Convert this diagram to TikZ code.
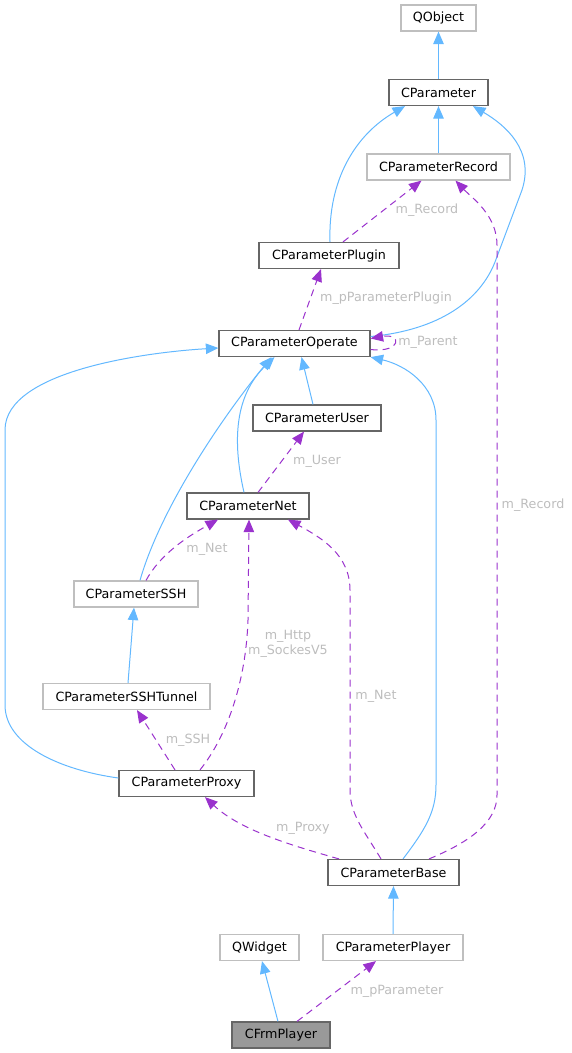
\documentclass[tikz,border=0pt]{standalone}
\usepackage{fontspec}
\setmainfont{DejaVu Sans}
\usetikzlibrary{calc,arrows.meta}
\definecolor{inh}{HTML}{63B8FF}
\definecolor{usg}{HTML}{9A32CD}
\definecolor{docb}{HTML}{666666}
\definecolor{undoc}{HTML}{BFBFBF}
\definecolor{lblc}{HTML}{BDBDBD}
\definecolor{frmfill}{HTML}{999999}
\begin{document}
\begin{tikzpicture}[x=1pt,y=-1pt,
  every node/.style={font=\fontsize{12.7pt}{15pt}\selectfont},
  box/.style={rectangle,minimum height=26pt,inner sep=0pt,line width=1.2pt,fill=white},
  docnode/.style={box,draw=docb},
  undocnode/.style={box,draw=undoc},
  curnode/.style={box,draw=docb,fill=frmfill},
  inhedge/.style={draw=inh,line width=1pt,-{Triangle[length=12.5pt,width=10.5pt]}},
  usgedge/.style={draw=usg,line width=1pt,dash pattern=on 7pt off 5pt,-{Triangle[length=12.5pt,width=10.5pt]}},
  lbl/.style={text=lblc,inner sep=0pt}
]
\useasboundingbox (0,0) rectangle (572,1053);
% nodes
\node[undocnode,minimum width=75pt] (qobject) at (438.5,18) {QObject};
\node[docnode,minimum width=99pt] (cparam) at (438.5,92.5) {CParameter};
\node[undocnode,minimum width=143pt] (record) at (438.5,167) {CParameterRecord};
\node[docnode,minimum width=140pt] (plugin) at (329,255.5) {CParameterPlugin};
\node[docnode,minimum width=151pt] (operate) at (294.5,343.5) {CParameterOperate};
\node[docnode,minimum width=128pt] (user) at (317,418) {CParameterUser};
\node[docnode,minimum width=122pt] (net) at (248,506) {CParameterNet};
\node[undocnode,minimum width=124pt] (ssh) at (136,594) {CParameterSSH};
\node[undocnode,minimum width=167pt] (tunnel) at (126.5,696.5) {CParameterSSHTunnel};
\node[docnode,minimum width=135pt] (proxy) at (186.5,783.5) {CParameterProxy};
\node[docnode,minimum width=131pt] (base) at (393.5,872.5) {CParameterBase};
\node[undocnode,minimum width=79pt] (qwidget) at (259.5,947.5) {QWidget};
\node[undocnode,minimum width=140pt] (player) at (393,947.5) {CParameterPlayer};
\node[curnode,minimum width=98pt] (frm) at (281,1035) {CFrmPlayer};
% inheritance edges
\draw[inhedge] (cparam.north) -- (qobject.south);
\draw[inhedge] (record.north) -- (cparam.south);
\draw[inhedge] ($(plugin.north)+(1,0)$) .. controls (328,180) and (355,135) .. ($(cparam.south)+(-33.5,0)$);
\draw[inhedge] ($(operate.east)+(0,-7)$) .. controls (440,330) and (480,300) .. (495,262) -- (522,190) .. controls (535,150) and (505,125) .. ($(cparam.south)+(34.5,0)$);
\draw[inhedge] ($(proxy.west)+(0,-5.5)$) .. controls (60,770) and (5,745) .. (5,705) -- (5,430) .. controls (5,370) and (150,352) .. ($(operate.west)+(0,4.5)$);
\draw[inhedge] ($(ssh.north)+(4,0)$) .. controls (160,510) and (220,420) .. ($(operate.south)+(-23,0)$);
\draw[inhedge] ($(net.north)+(-4,0)$) .. controls (232,440) and (235,395) .. ($(operate.south)+(-20,0)$);
\draw[inhedge] ($(user.north)+(-4,0)$) -- ($(operate.south)+(7,0)$);
\draw[inhedge] ($(base.north)+(9.5,0)$) .. controls (425,830) and (436,812) .. (436,785) -- (436,420) .. controls (436,385) and (405,365) .. (operate.south east);
\draw[inhedge] ($(tunnel.north)+(1.5,0)$) -- ($(ssh.south)+(-2,0)$);
\draw[inhedge] (player.north) -- (base.south);
\draw[inhedge] ($(frm.north)+(-3,0)$) -- ($(qwidget.south)+(2.5,0)$);
% usage edges
\draw[usgedge] ($(plugin.north)+(14,0)$) -- ($(record.south)+(-17,0)$);
\node[lbl] (lrec1) at (427,210) {m\_Record};
\draw[usgedge] ($(operate.north)+(4.5,0)$) -- ($(plugin.south)+(-8,0)$);
\node[lbl] (lplug) at (386,298) {m\_pParameterPlugin};
\draw[usgedge] ($(operate.east)+(0,6)$) .. controls (402,353) and (402,333) .. ($(operate.east)+(0,-5)$);
\node[lbl] (lpar) at (428,342) {m\_Parent};
\draw[usgedge] ($(base.north)+(35.5,0)$) .. controls (470,842) and (497,822) .. (497,795) -- (497,245) .. controls (497,215) and (472,198) .. ($(record.south)+(17,0)$);
\node[lbl] (lrec2) at (533,505) {m\_Record};
\draw[usgedge] ($(net.north)+(10,0)$) -- ($(user.south)+(-13,0)$);
\node[lbl] (luser) at (317,461) {m\_User};
\draw[usgedge] ($(ssh.north)+(10,0)$) .. controls (160,555) and (185,538) .. ($(net.south)+(-30,0)$);
\node[lbl] (lnet1) at (207,549) {m\_Net};
\draw[usgedge] ($(proxy.north)+(13.5,0)$) .. controls (228,735) and (246,680) .. (248,620) -- ($(net.south)+(1,0)$);
\node[lbl,align=center] (lhttp) at (288,644) {m\_Http\\m\_SockesV5};
\draw[usgedge] ($(base.north)+(-12.5,0)$) .. controls (365,832) and (350,815) .. (350,790) -- (350,590) .. controls (350,555) and (322,538) .. ($(net.south)+(40,0)$);
\node[lbl] (lnet2) at (376,696) {m\_Net};
\draw[usgedge] ($(proxy.north)+(-11.5,0)$) -- ($(tunnel.south)+(10.5,0)$);
\node[lbl] (lssh) at (188,740) {m\_SSH};
\draw[usgedge] ($(base.north)+(-54.5,0)$) .. controls (290,845) and (240,830) .. ($(proxy.south)+(18.5,0)$);
\node[lbl] (lproxy) at (303,828) {m\_Proxy};
\draw[usgedge] ($(frm.north)+(16,0)$) -- ($(player.south)+(-17,0)$);
\node[lbl] (lpp) at (397,991) {m\_pParameter};
\end{tikzpicture}
\end{document}
